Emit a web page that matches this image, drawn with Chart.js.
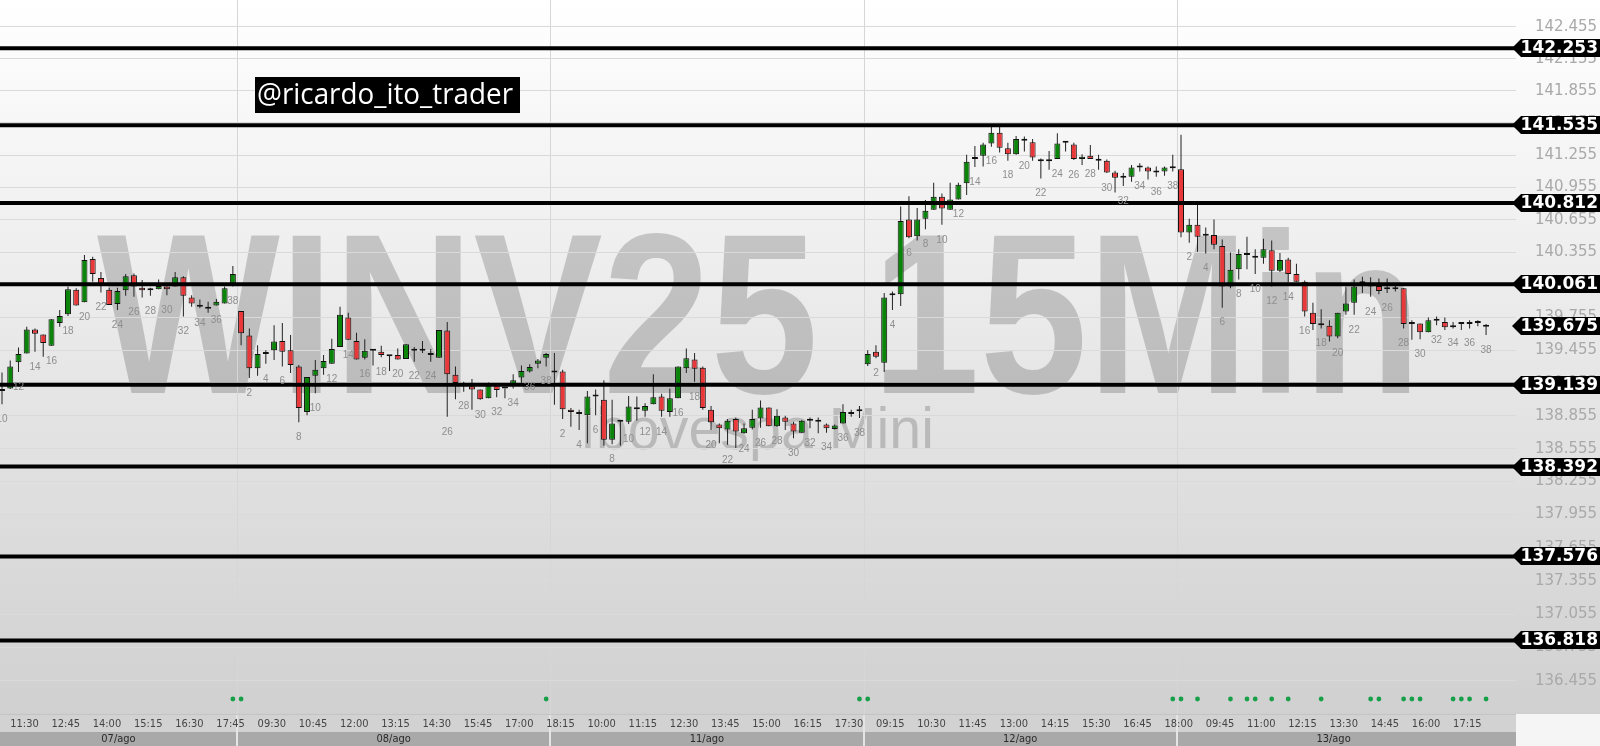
<!DOCTYPE html>
<html><head><meta charset="utf-8">
<script src="https://cdn.jsdelivr.net/npm/chart.js@4.4.1/dist/chart.umd.min.js"></script>
<style>html,body{margin:0;padding:0;background:#fff;overflow:hidden}canvas{display:block}</style>
</head><body>
<canvas id="c" width="1600" height="746"></canvas>
<script>
// ---------- DATA ----------
const sessionTimes = ['09:00','09:15','09:30','09:45','10:00','10:15','10:30','10:45','11:00','11:15','11:30','11:45','12:00','12:15','12:30','12:45','13:00','13:15','13:30','13:45','14:00','14:15','14:30','14:45','15:00','15:15','15:30','15:45','16:00','16:15','16:30','16:45','17:00','17:15','17:30','17:45','18:00','18:15'];
const dayLabels = ['07/ago','08/ago','11/ago','12/ago','13/ago'];
const dayStartTimes = ['11:15','09:00','09:00','09:00','09:00'];

// [open, high, low, close]
const day07 = [[139.095,139.250,138.960,139.080],[139.105,139.360,139.100,139.305],[139.345,139.480,139.255,139.420],[139.425,139.670,139.425,139.645],[139.645,139.655,139.440,139.605],[139.600,139.600,139.395,139.520],[139.495,139.740,139.495,139.740],[139.705,139.825,139.670,139.770],[139.785,140.040,139.770,140.015],[140.010,140.025,139.865,139.865],[139.895,140.330,139.895,140.285],[140.295,140.315,140.085,140.155],[140.120,140.175,139.985,140.045],[140.010,140.030,139.870,139.870],[139.880,140.030,139.825,140.000],[140.005,140.155,139.955,140.135],[140.145,140.160,139.945,140.040],[140.030,140.100,139.940,140.005],[140.005,140.030,139.955,140.005],[140.015,140.105,140.015,140.045],[140.040,140.040,139.960,140.015],[140.040,140.175,140.040,140.125],[140.125,140.135,139.765,139.955],[139.940,139.960,139.855,139.885],[139.855,139.920,139.840,139.870],[139.855,139.900,139.800,139.835],[139.865,139.925,139.865,139.900],[139.885,140.040,139.885,140.025],[140.045,140.230,140.040,140.155]];
const day08 = [[139.815,139.815,139.500,139.610],[139.590,139.655,139.200,139.290],[139.290,139.500,139.220,139.420],[139.420,139.455,139.330,139.420],[139.455,139.685,139.365,139.535],[139.540,139.705,139.305,139.440],[139.455,139.595,139.245,139.320],[139.305,139.320,138.795,138.925],[138.890,139.210,138.860,139.210],[139.220,139.365,139.060,139.275],[139.290,139.410,139.230,139.355],[139.330,139.560,139.330,139.465],[139.485,139.855,139.485,139.780],[139.755,139.800,139.550,139.550],[139.540,139.615,139.370,139.370],[139.385,139.555,139.370,139.450],[139.450,139.465,139.315,139.450],[139.440,139.495,139.390,139.410],[139.400,139.410,139.265,139.400],[139.410,139.470,139.370,139.370],[139.375,139.510,139.375,139.510],[139.465,139.485,139.350,139.450],[139.450,139.540,139.430,139.450],[139.430,139.465,139.350,139.410],[139.385,139.640,139.385,139.640],[139.635,139.715,138.845,139.235],[139.230,139.305,139.005,139.155],[139.135,139.165,139.075,139.135],[139.125,139.190,138.910,139.095],[139.095,139.095,139.000,139.005],[139.015,139.160,139.015,139.135],[139.135,139.135,139.025,139.090],[139.105,139.105,139.015,139.105],[139.145,139.235,139.105,139.180],[139.205,139.315,139.150,139.265],[139.260,139.325,139.250,139.300],[139.330,139.375,139.290,139.360],[139.385,139.430,139.305,139.420]];
const day11 = [[139.250,139.430,138.955,139.250],[139.260,139.275,138.825,138.915],[138.910,138.925,138.755,138.890],[138.870,138.910,138.725,138.870],[138.860,139.080,138.605,139.030],[139.030,139.095,138.860,139.030],[139.000,139.180,138.580,138.635],[138.635,139.000,138.595,138.785],[138.800,138.815,138.580,138.800],[138.800,139.035,138.780,138.940],[138.930,139.030,138.810,138.915],[138.900,138.970,138.845,138.945],[138.960,139.235,138.960,139.025],[139.030,139.055,138.845,138.900],[138.890,139.105,138.845,139.015],[139.015,139.305,139.015,139.305],[139.290,139.470,139.245,139.380],[139.370,139.430,139.165,139.285],[139.295,139.305,138.910,138.925],[138.910,138.945,138.725,138.795],[138.775,138.785,138.605,138.740],[138.730,138.825,138.590,138.810],[138.825,138.840,138.560,138.710],[138.695,138.785,138.690,138.740],[138.745,138.910,138.730,138.825],[138.830,138.995,138.745,138.930],[138.930,138.930,138.760,138.760],[138.760,138.915,138.755,138.855],[138.840,138.855,138.725,138.800],[138.785,138.800,138.650,138.710],[138.700,138.815,138.700,138.810],[138.810,138.840,138.740,138.810],[138.800,138.840,138.695,138.800],[138.775,138.785,138.700,138.740],[138.735,138.775,138.730,138.765],[138.785,138.960,138.785,138.890],[138.870,138.910,138.845,138.890],[138.895,138.945,138.835,138.895]];
const day12 = [[139.325,139.455,139.310,139.420],[139.440,139.500,139.380,139.395],[139.340,139.980,139.255,139.940],[139.960,139.995,139.825,139.960],[139.970,140.780,139.860,140.645],[140.660,140.875,140.485,140.495],[140.505,140.765,140.465,140.660],[140.665,140.840,140.570,140.740],[140.750,141.000,140.750,140.870],[140.870,140.900,140.610,140.760],[140.750,141.000,140.750,140.845],[140.845,141.000,140.845,140.980],[140.995,141.260,140.885,141.195],[141.220,141.340,141.145,141.220],[141.250,141.370,141.150,141.355],[141.365,141.520,141.335,141.465],[141.465,141.525,141.280,141.325],[141.320,141.370,141.205,141.265],[141.265,141.435,141.260,141.405],[141.405,141.430,141.290,141.390],[141.375,141.405,141.205,141.235],[141.210,141.225,141.040,141.200],[141.200,141.295,141.120,141.210],[141.220,141.460,141.220,141.365],[141.370,141.385,141.290,141.370],[141.355,141.370,141.210,141.220],[141.220,141.265,141.165,141.240],[141.250,141.350,141.220,141.220],[141.220,141.260,141.120,141.205],[141.205,141.215,141.090,141.095],[141.095,141.110,140.910,141.045],[141.045,141.090,140.970,141.045],[141.055,141.165,141.010,141.140],[141.140,141.180,141.105,141.140],[141.140,141.150,141.030,141.105],[141.095,141.150,141.055,141.095],[141.105,141.150,141.065,141.140],[141.135,141.260,141.105,141.135]];
const day13 = [[141.125,141.445,140.495,140.540],[140.540,140.665,140.445,140.610],[140.610,140.805,140.360,140.500],[140.510,140.585,140.345,140.510],[140.515,140.660,140.385,140.425],[140.415,140.475,139.845,140.040],[140.040,140.355,140.025,140.195],[140.200,140.385,140.105,140.340],[140.345,140.500,140.200,140.330],[140.320,140.385,140.155,140.305],[140.305,140.480,140.250,140.385],[140.375,140.465,140.040,140.185],[140.185,140.350,140.175,140.285],[140.290,140.305,140.080,140.155],[140.155,140.250,140.085,140.085],[140.085,140.095,139.765,139.810],[139.800,139.890,139.640,139.695],[139.685,139.830,139.655,139.685],[139.680,139.730,139.535,139.580],[139.580,139.800,139.565,139.800],[139.810,140.040,139.780,139.885],[139.890,140.105,139.780,140.040],[140.070,140.130,139.980,140.070],[140.040,140.125,139.945,140.040],[140.045,140.115,139.970,140.000],[140.015,140.115,139.980,140.015],[140.015,140.045,139.995,140.015],[140.025,140.025,139.655,139.695],[139.695,139.730,139.550,139.695],[139.700,139.700,139.555,139.620],[139.620,139.755,139.620,139.730],[139.725,139.765,139.685,139.725],[139.715,139.755,139.640,139.665],[139.665,139.715,139.655,139.665],[139.695,139.715,139.640,139.705],[139.705,139.730,139.655,139.695],[139.705,139.730,139.675,139.705],[139.685,139.695,139.595,139.670]];
const dayCandles = [day07, day08, day11, day12, day13];

// x-axis tick labels per day
const ticks07 = ['11:30','12:45','14:00','15:15','16:30','17:45'];
const ticks08 = ['09:30','10:45','12:00','13:15','14:30','15:45','17:00','18:15'];
const ticks11 = ['10:00','11:15','12:30','13:45','15:00','16:15','17:30'];
const ticks12 = ['09:15','10:30','11:45','13:00','14:15','15:30','16:45','18:00'];
const ticks13 = ['09:45','11:00','12:15','13:30','14:45','16:00','17:15'];
const dayTicks = [ticks07, ticks08, ticks11, ticks12, ticks13];

// signal dots (candle times) per day
const dots07 = ['18:15'];
const dots08 = ['09:00','18:15'];
const dots11 = ['18:15'];
const dots12 = ['09:00','18:15'];
const dots13 = ['09:00','09:30','10:30','11:00','11:15','11:45','12:15','13:15','14:45','15:00','15:45','16:00','16:15','17:15','17:30','17:45','18:15'];
const dayDots = [dots07, dots08, dots11, dots12, dots13];

// y-axis tick labels and price levels
const yTicks = [142.455,142.155,141.855,141.555,141.255,140.955,140.655,140.355,140.055,139.755,139.455,139.155,138.855,138.555,138.255,137.955,137.655,137.355,137.055,136.755,136.455];
const levels = [142.253,141.535,140.812,140.061,139.139,138.392,137.576,136.818];
const lastPrice = 139.675;

// ---------- BUILD ----------
const candles = [];
const dayRanges = [];
dayCandles.forEach((arr, di) => {
  const s = sessionTimes.indexOf(dayStartTimes[di]);
  const first = candles.length;
  arr.forEach((q, k) => {
    candles.push({g: candles.length, day: di, time: sessionTimes[s + k], n: s + k + 1, o: q[0], h: q[1], l: q[2], c: q[3]});
  });
  dayRanges.push({label: dayLabels[di], first, last: candles.length - 1});
});
const findG = (di, t) => { const c = candles.find(c => c.day === di && c.time === t); return c ? c.g : null; };
const tickMap = {};
dayTicks.forEach((arr, di) => arr.forEach(t => { const g = findG(di, t); if (g !== null) tickMap[g] = t; }));
const tickPositions = Object.keys(tickMap).map(Number);
const dotPositions = [];
dayDots.forEach((arr, di) => arr.forEach(t => { const g = findG(di, t); if (g !== null) dotPositions.push(g); }));

const X_MIN = -0.243, X_MAX = 183.63;
const Y_MIN = 136.157, Y_MAX = 142.705;
const GREEN = '#0a850a', RED = '#e8383a', DOJI = '#1a1a1a';

const wickData = candles.map(c => ({x: c.g, y: [c.l, c.h]}));
const bodyData = candles.map(c => ({x: c.g, y: [Math.min(c.o, c.c), Math.max(c.o, c.c)]}));
const bodyColors = candles.map(c => c.c > c.o ? GREEN : (c.c < c.o ? RED : DOJI));

const levelSets = levels.map(v => ({
  type: 'line', data: [{x: X_MIN, y: v}, {x: X_MAX, y: v}], borderColor: '#000', borderWidth: 4,
  pointRadius: 0, order: 0, tension: 0
}));

const NARROW = "'Liberation Sans Narrow','DejaVu Sans Condensed','Liberation Sans',sans-serif";

const bgPlugin = {
  id: 'bgPlugin',
  beforeDraw(chart) {
    const {ctx, chartArea: a, scales: {x}} = chart;
    const W = chart.width, H = chart.height;
    ctx.save();
    const gr = ctx.createLinearGradient(0, 0, 0, a.bottom);
    gr.addColorStop(0, '#ffffff'); gr.addColorStop(1, '#d0d0d0');
    ctx.fillStyle = gr; ctx.fillRect(0, 0, W, a.bottom);
    ctx.fillStyle = '#f5f5f5'; ctx.fillRect(a.right, a.bottom, W - a.right, H - a.bottom);
    ctx.fillStyle = '#d2d2d2'; ctx.fillRect(0, a.bottom, a.right, 18);
    ctx.fillStyle = '#c4c4c4'; ctx.fillRect(0, a.bottom, a.right, 1);
    ctx.fillStyle = '#a9a9a9'; ctx.fillRect(0, a.bottom + 18, a.right, H - a.bottom - 18);
    // watermark
    ctx.fillStyle = 'rgba(0,0,0,0.18)';
    ctx.textBaseline = 'alphabetic'; ctx.textAlign = 'left';
    ctx.font = "bold 228px 'Liberation Sans', Arial, sans-serif";
    let t = 'WINV25 15Min'; let w = ctx.measureText(t).width;
    ctx.save(); ctx.translate(97, 393); ctx.scale(1324 / w, 1); ctx.fillText(t, 0, 0); ctx.restore();
    ctx.font = "60px 'Liberation Sans', Arial, sans-serif";
    t = 'Ibovespa Mini'; w = ctx.measureText(t).width;
    ctx.save(); ctx.translate(580, 449); ctx.scale(354 / w, 1); ctx.fillText(t, 0, 0); ctx.restore();
    // day separators and day band labels
    dayRanges.forEach((d, i) => {
      const x0 = Math.max(a.left, x.getPixelForValue(d.first - 0.5));
      const x1 = Math.min(a.right, x.getPixelForValue(d.last + 0.5));
      if (i > 0) {
        ctx.fillStyle = '#d6d6d6'; ctx.fillRect(Math.round(x0), 0, 1, a.bottom);
        ctx.fillStyle = '#e4e4e4'; ctx.fillRect(Math.round(x0) - 1, a.bottom + 1, 2, H - a.bottom);
      }
      ctx.fillStyle = '#2a2a2a'; ctx.font = "11px " + NARROW; ctx.textAlign = 'center'; ctx.textBaseline = 'middle';
      ctx.fillText(d.label, (x0 + x1) / 2, a.bottom + 25);
    });
    ctx.restore();
  },
  afterDatasetsDraw(chart) {
    const {ctx, chartArea: a, scales: {x, y}} = chart;
    ctx.save();
    ctx.font = "10px 'Liberation Sans', Arial, sans-serif"; ctx.fillStyle = '#8e8e8e';
    ctx.textAlign = 'center'; ctx.textBaseline = 'middle';
    candles.forEach(c => {
      if (c.n % 2 === 0) ctx.fillText(String(c.n), x.getPixelForValue(c.g), y.getPixelForValue(c.l) + 15);
    });
    ctx.fillStyle = '#17a048';
    dotPositions.forEach(g => { ctx.beginPath(); ctx.arc(x.getPixelForValue(g), a.bottom - 15, 2.4, 0, Math.PI * 2); ctx.fill(); });
    ctx.restore();
  },
  afterDraw(chart) {
    const {ctx, chartArea: a, scales: {y}} = chart;
    ctx.save();
    const tag = (v) => {
      const yy = Math.round(y.getPixelForValue(v));
      const xt = a.right - 4;
      ctx.beginPath();
      ctx.moveTo(xt, yy); ctx.lineTo(xt + 9, yy - 9); ctx.lineTo(chart.width, yy - 9); ctx.lineTo(chart.width, yy + 9); ctx.lineTo(xt + 9, yy + 9); ctx.closePath();
      ctx.fillStyle = '#000'; ctx.fill();
      ctx.font = "bold 17px 'DejaVu Sans', sans-serif"; ctx.fillStyle = '#fff'; ctx.textAlign = 'right'; ctx.textBaseline = 'middle';
      const tw = ctx.measureText(v.toFixed(3)).width;
      ctx.save(); ctx.translate(chart.width - 2, yy + 1); ctx.scale(Math.min(1, 78 / tw), 1); ctx.fillText(v.toFixed(3), 0, 0); ctx.restore();
    };
    levels.forEach(tag); tag(lastPrice);
    // author tag
    ctx.fillStyle = '#000'; ctx.fillRect(255, 77, 265, 36);
    ctx.font = "29px 'Open Sans', 'Liberation Sans', sans-serif"; ctx.fillStyle = '#fff';
    ctx.textAlign = 'left'; ctx.textBaseline = 'alphabetic';
    const t = '@ricardo_ito_trader'; const w = ctx.measureText(t).width;
    ctx.save(); ctx.translate(257, 104); ctx.scale(256 / w, 1); ctx.fillText(t, 0, 0); ctx.restore();
    ctx.restore();
  }
};

new Chart(document.getElementById('c'), {
  type: 'bar',
  data: {
    datasets: [
      ...levelSets,
      {type: 'bar', data: bodyData, backgroundColor: bodyColors, borderColor: '#111', borderWidth: 1, borderSkipped: false,
       barThickness: 6, minBarLength: 2, grouped: false, order: 1, inflateAmount: 0},
      {type: 'bar', data: wickData, backgroundColor: '#222', borderWidth: 0, barThickness: 1, grouped: false, order: 2, inflateAmount: 0}
    ]
  },
  options: {
    responsive: false, animation: false, devicePixelRatio: 1,
    layout: {padding: 0},
    plugins: {legend: {display: false}, tooltip: {enabled: false}},
    scales: {
      x: {
        type: 'linear', min: X_MIN, max: X_MAX, bounds: 'data', offset: false,
        grid: {display: false, drawTicks: false}, border: {display: false},
        ticks: {autoSkip: false, maxRotation: 0, minRotation: 0, align: 'start', padding: 4, color: '#454545',
                font: {family: NARROW, size: 11}, callback: v => tickMap[v] || ''},
        afterBuildTicks: s => { s.ticks = tickPositions.map(v => ({value: v})); },
        afterFit: s => { s.height = 32; s.paddingLeft = 0; s.paddingRight = 0; }
      },
      y: {
        type: 'logarithmic', position: 'right', min: Y_MIN, max: Y_MAX, bounds: 'data', beginAtZero: false,
        grid: {color: '#dadada', drawTicks: false, lineWidth: 1}, border: {display: false},
        ticks: {autoSkip: false, padding: 19, color: '#a9a9a9', font: {family: "'DejaVu Sans', sans-serif", size: 15},
                callback: v => Number(v).toFixed(3)},
        afterBuildTicks: s => { s.ticks = yTicks.map(v => ({value: v})); },
        afterFit: s => { s.width = 84; s.paddingTop = 0; s.paddingBottom = 0; }
      }
    }
  },
  plugins: [bgPlugin]
});
</script>
</body></html>
